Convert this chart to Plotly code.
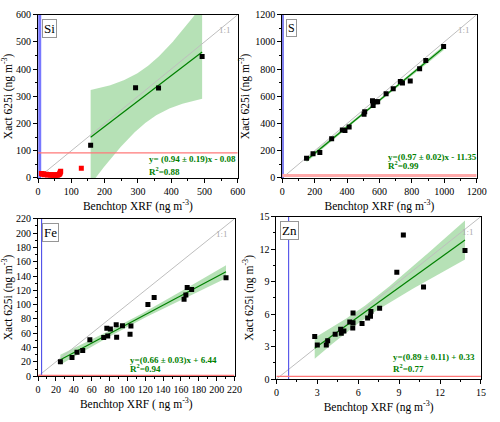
import numpy as np
import plotly.graph_objects as go

# ---------------- data ----------------
si_x = [158, 293, 362, 493]
si_y = [120, 332, 331, 446]
si_below_x = [10, 13, 16, 19, 22, 25, 28, 31, 34, 37, 40, 43, 46, 49, 52, 55, 58, 61, 63, 65, 66, 67, 68, 130]
si_below_y = [16, 14, 15, 12, 13, 14, 11, 13, 12, 11, 12, 10, 11, 12, 10, 11, 10, 12, 13, 15, 18, 22, 25, 36]
si_lod_x, si_lod_y = 5, 92

s_x = [150, 190, 232, 305, 371, 387, 413, 505, 509, 557, 561, 581, 589, 641, 685, 729, 742, 790, 848, 886, 996]
s_y = [145, 178, 188, 288, 352, 348, 374, 469, 486, 567, 533, 560, 560, 619, 655, 710, 698, 712, 802, 864, 967]
s_lod_x, s_lod_y = 4, 18

fe_x = [25, 38, 43.6, 50, 58, 73.5, 77, 78, 81, 87.5, 88, 94.5, 103, 104, 123, 130, 163.5, 165.5, 167, 172, 210.5]
fe_y = [20, 26, 33.5, 36, 51, 54, 67, 56, 66, 72, 54.5, 70.5, 58.5, 70, 100, 110, 107.5, 113.5, 124, 121, 137.5]
fe_lod_x, fe_lod_y = 4, 1

zn_x = [2.81, 3.0, 3.66, 3.76, 4.31, 4.71, 4.76, 4.95, 5.38, 5.62, 5.6, 5.62, 6.28, 6.69, 6.93, 6.9, 7.57, 8.83, 9.31, 10.79, 13.83]
zn_y = [3.92, 3.15, 3.15, 3.55, 4.15, 4.6, 4.24, 4.45, 5.26, 6.09, 4.72, 5.2, 5.13, 5.64, 6.24, 5.8, 6.54, 9.86, 13.3, 8.49, 11.86]
zn_lod_x, zn_lod_y = 0.9, 0.25

panels = [
    dict(name="Si", x=si_x, y=si_y, lodx=si_lod_x, lody=si_lod_y, rng=600, dt=100,
         eq="y= (0.94 ± 0.19)x - 0.08", r2="R<sup>2</sup>=0.88",
         xt="Benchtop XRF (ng m<sup>-3</sup>)"),
    dict(name="S", x=s_x, y=s_y, lodx=s_lod_x, lody=s_lod_y, rng=1200, dt=200,
         eq="y=(0.97 ± 0.02)x - 11.35", r2="R<sup>2</sup>=0.99",
         xt="Benchtop XRF (ng m<sup>-3</sup>)"),
    dict(name="Fe", x=fe_x, y=fe_y, lodx=fe_lod_x, lody=fe_lod_y, rng=220, dt=20,
         eq="y=(0.66 ± 0.03)x + 6.44", r2="R<sup>2</sup>=0.94",
         xt="Benchtop XRF ( ng m<sup>-3</sup>)"),
    dict(name="Zn", x=zn_x, y=zn_y, lodx=zn_lod_x, lody=zn_lod_y, rng=15, dt=3,
         eq="y=(0.89 ± 0.11) + 0.33", r2="R<sup>2</sup>=0.77",
         xt="Benchtop XRF (ng m<sup>-3</sup>)"),
]

T975 = {1: 12.706, 2: 4.303, 3: 3.182, 4: 2.776, 5: 2.571, 6: 2.447, 7: 2.365, 8: 2.306,
        9: 2.262, 10: 2.228, 11: 2.201, 12: 2.179, 13: 2.160, 14: 2.145, 15: 2.131,
        16: 2.120, 17: 2.110, 18: 2.101, 19: 2.093, 20: 2.086, 21: 2.080, 22: 2.074,
        23: 2.069, 24: 2.064, 25: 2.060, 26: 2.056, 27: 2.052, 28: 2.048, 29: 2.045, 30: 2.042}

FONT = "Liberation Serif"
GREEN = "rgb(0,128,0)"
BAND = "rgba(110,195,110,0.5)"

doms = [
    ([0.072, 0.482], [0.5806, 0.9787]),
    ([0.5734, 0.9726], [0.5806, 0.9787]),
    ([0.072, 0.4754], [0.0972, 0.481]),
    ([0.5614, 0.9814], [0.09, 0.4865]),
]
# equation placement (x start, eq y, R2 y) in axis-domain fractions
eqpos = [(0.546, 0.119, 0.042), (0.532, 0.131, 0.077), (0.456, 0.105, 0.052), (0.559, 0.137, 0.066)]

fig = go.Figure()
annotations = []
layout = {}

for i, p in enumerate(panels):
    k = "" if i == 0 else str(i + 1)
    xa, ya = "x" + k, "y" + k
    x = np.array(p["x"], float)
    y = np.array(p["y"], float)
    n = len(x)
    b, a = np.polyfit(x, y, 1)
    res = y - (a + b * x)
    s = np.sqrt(np.sum(res ** 2) / (n - 2))
    xm = x.mean()
    sxx = np.sum((x - xm) ** 2)
    xs = np.linspace(x.min(), x.max(), 120)
    ys = a + b * xs
    hw = T975[n - 2] * s * np.sqrt(1.0 / n + (xs - xm) ** 2 / sxx)
    R = p["rng"]

    fig.add_trace(go.Scatter(x=np.concatenate([xs, xs[::-1]]),
                             y=np.concatenate([ys + hw, (ys - hw)[::-1]]),
                             fill="toself", fillcolor=BAND, line=dict(width=0),
                             mode="lines", hoverinfo="skip", showlegend=False,
                             xaxis=xa, yaxis=ya))
    fig.add_trace(go.Scatter(x=[0, R], y=[0, R], mode="lines",
                             line=dict(color="rgb(190,190,190)", width=1),
                             showlegend=False, xaxis=xa, yaxis=ya))
    fig.add_trace(go.Scatter(x=[p["lodx"], p["lodx"]], y=[0, R], mode="lines",
                             line=dict(color="rgb(120,120,255)" if i == 0 else "rgb(60,60,230)",
                                       width=3 if i == 0 else 1.5 if i == 1 else 1),
                             showlegend=False, xaxis=xa, yaxis=ya))
    fig.add_trace(go.Scatter(x=[0, R], y=[p["lody"], p["lody"]], mode="lines",
                             line=dict(color="rgb(255,120,120)" if i != 1 else "rgb(255,170,170)",
                                       width=1.2 if i != 1 else 3),
                             showlegend=False, xaxis=xa, yaxis=ya))
    fig.add_trace(go.Scatter(x=xs, y=ys, mode="lines", line=dict(color=GREEN, width=1.2),
                             showlegend=False, xaxis=xa, yaxis=ya))
    if i == 0:
        fig.add_trace(go.Scatter(x=si_below_x, y=si_below_y, mode="markers",
                                 marker=dict(symbol="square", size=5, color="red"),
                                 showlegend=False, xaxis=xa, yaxis=ya))
    fig.add_trace(go.Scatter(x=x, y=y, mode="markers",
                             marker=dict(symbol="square", size=5, color="black"),
                             showlegend=False, xaxis=xa, yaxis=ya))

    axcommon = dict(range=[0, R], dtick=p["dt"], tick0=0, showgrid=False, zeroline=False,
                    showline=True, linecolor="black", linewidth=1, mirror=True,
                    ticks="outside", ticklen=4, tickcolor="black",
                    minor=dict(ticks="outside", ticklen=2, dtick=p["dt"] / 2, tickcolor="black"),
                    tickfont=dict(family=FONT, size=10, color="black"))
    layout["xaxis" + k] = dict(axcommon, domain=doms[i][0], anchor=ya,
                               title=dict(text=p["xt"], font=dict(family=FONT, size=11.5, color="black"),
                                          standoff=5))
    layout["yaxis" + k] = dict(axcommon, domain=doms[i][1], anchor=xa,
                               title=dict(text="Xact 625i (ng m<sup>-3</sup>)",
                                          font=dict(family=FONT, size=11.5, color="black"),
                                          standoff=3))

    annotations.append(dict(xref=xa + " domain", yref=ya + " domain", x=0.02, y=0.975,
                            xanchor="left", yanchor="top", showarrow=False,
                            text=p["name"], font=dict(family=FONT, size=13 if i != 1 else 12, color="black"),
                            bordercolor="rgb(150,150,150)", borderwidth=1, borderpad=1,
                            bgcolor="white"))
    annotations.append(dict(xref=xa, yref=ya, x=R * 0.975, y=R * 0.905, xanchor="right",
                            yanchor="middle", showarrow=False, text="1:1",
                            font=dict(family=FONT, size=9, color="rgb(170,170,170)")))
    ex, ey, ry = eqpos[i]
    annotations.append(dict(xref=xa + " domain", yref=ya + " domain", x=ex, y=ey,
                            xanchor="left", yanchor="middle", showarrow=False,
                            text="<b>" + p["eq"] + "</b>",
                            font=dict(family=FONT, size=9, color=GREEN)))
    annotations.append(dict(xref=xa + " domain", yref=ya + " domain", x=ex, y=ry,
                            xanchor="left", yanchor="middle", showarrow=False,
                            text="<b>" + p["r2"] + "</b>",
                            font=dict(family=FONT, size=9, color=GREEN)))

fig.update_layout(**layout)
fig.update_layout(annotations=annotations, width=500, height=422,
                  margin=dict(l=0, r=0, t=0, b=0), plot_bgcolor="white",
                  paper_bgcolor="white", showlegend=False)
fig.write_html("out.html")
